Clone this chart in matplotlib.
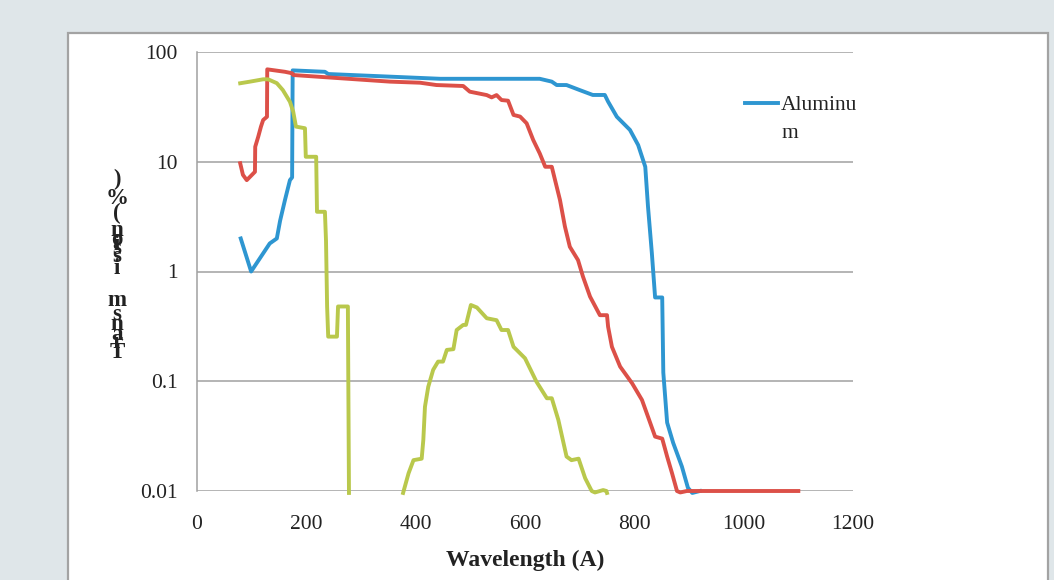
import numpy as np
import matplotlib
matplotlib.use("Agg")
import matplotlib.pyplot as plt
from matplotlib.patches import Rectangle
from matplotlib.lines import Line2D

# Aluminum (blue)
al_wl = [80, 99, 133, 146, 152, 161, 170, 174, 175, 234, 240, 445, 627, 649, 658, 676, 700,
         724, 746, 752, 768, 792, 807, 820, 825, 832, 838, 851, 853, 860, 871, 887, 898, 906, 920]
al_t = [2.0, 1.0, 1.8, 2.0, 2.9, 4.5, 6.8, 7.2, 68, 66, 63, 57, 57, 53.7, 50, 50, 45,
        40.6, 40.6, 35.3, 25.7, 19.5, 14.2, 9.0, 3.9, 1.48, 0.58, 0.58, 0.12, 0.042, 0.0275, 0.0167, 0.0107, 0.0096, 0.01]

# second filter (red)
red_wl = [79, 84, 91, 106, 106.5, 112, 117, 121, 128, 128.5, 161, 174, 176, 353, 408, 438, 487, 499,
          530, 539, 548, 557, 569, 579, 591, 603, 615, 627, 637, 649, 655, 664, 673, 682, 697, 706,
          719, 737, 750, 752, 759, 774, 796, 814, 825, 838, 851, 860, 869, 878, 884, 896, 1100]
red_t = [9.7, 7.6, 6.8, 8.1, 13.7, 16.9, 20.9, 24, 25.7, 69.5, 66, 64, 61.7, 53.7, 52.5, 50, 49, 43.5,
         40.5, 38.6, 40.5, 36.5, 36, 26.7, 25.8, 22.4, 15.8, 11.9, 9.0, 9.0, 6.8, 4.48, 2.57, 1.68, 1.27, 0.9,
         0.59, 0.40, 0.40, 0.314, 0.206, 0.136, 0.0957, 0.0675, 0.0475, 0.0313, 0.030, 0.0206, 0.0145, 0.01, 0.0097, 0.01, 0.01]

# third filter (green), gap where nothing is plotted
grn_wl = [79, 97, 121, 130, 146, 157, 170, 176, 181, 197.5, 199, 218, 219.5, 234, 236, 238, 240, 256, 258,
          276, 278, np.nan,
          377, 387, 396, 411, 414, 417, 423, 432, 441, 450, 457, 469, 475, 487, 492, 501, 512, 530, 548,
          557, 569, 579, 600, 621, 640, 649, 661, 676, 685, 698, 710, 722, 728, 743, 749, 750]
grn_t = [51.9, 53.7, 56.4, 56.4, 52, 45, 35.2, 28.6, 20.9, 20.2, 11.1, 11.1, 3.5, 3.5, 1.9, 0.48, 0.255, 0.255, 0.48,
         0.48, 0.0096, np.nan,
         0.0096, 0.0145, 0.0191, 0.0197, 0.0292, 0.0586, 0.089, 0.127, 0.151, 0.151, 0.193, 0.196, 0.293, 0.326, 0.326,
         0.495, 0.47, 0.375, 0.36, 0.293, 0.293, 0.206, 0.162, 0.099, 0.07, 0.07, 0.0444, 0.0206, 0.0191, 0.0197,
         0.0131, 0.0100, 0.0097, 0.0102, 0.0100, 0.0096]

x_ticks = [0, 200, 400, 600, 800, 1000, 1200]
y_ticks = [0.01, 0.1, 1, 10, 100]
y_tick_labels = ["0.01", "0.1", "1", "10", "100"]
legend_label = "Aluminu\nm"

# y label as drawn in the original: upright letters stacked bottom to top
ylab_chars = [")", "%", "(", "n", "o", "i", "s", "s", "i", "m", "s", "n", "a", "r", "T"]
ylab_pos = [179, 198, 213, 231, 240, 244, 249, 256, 268, 300, 314, 325, 335, 342, 352]


def main():
    W, H = 1054, 580
    fig = plt.figure(figsize=(W / 100, H / 100), dpi=100, facecolor="#dfe6e9")
    plt.rcParams["font.family"] = ["Liberation Serif", "DejaVu Serif"]

    # white panel behind the chart
    panel = Rectangle((68 / W, -0.1), (1048 - 68) / W, 0.1 + 1 - 33 / H, transform=fig.transFigure,
                      facecolor="white", edgecolor="#a3a3a3", linewidth=1.6, zorder=-5)
    fig.patches.append(panel)

    ax = fig.add_axes([197 / W, 1 - 491 / H, (853 - 197) / W, (491 - 52) / H])
    ax.set_facecolor("none")

    lw = 2.8
    blue = "#2e96d1"
    ax.plot(al_wl, al_t, color=blue, lw=lw, clip_on=False, solid_joinstyle="round")
    ax.plot(red_wl, red_t, color="#dc5048", lw=lw, clip_on=False, solid_joinstyle="round")
    ax.plot(grn_wl, grn_t, color="#b9c84c", lw=lw, clip_on=False, solid_joinstyle="round")

    ax.set_yscale("log")
    ax.set_ylim(0.01, 100)
    ax.set_xlim(0, 1200)
    ax.set_xticks(x_ticks)
    ax.set_yticks(y_ticks, y_tick_labels)
    ax.minorticks_off()
    ax.tick_params(length=0, labelsize=15.5, labelcolor="#222222")
    ax.tick_params(axis="y", pad=14)
    ax.tick_params(axis="x", pad=17)

    ax.grid(axis="y", color="#a0a0a0", lw=1.1)
    ax.set_axisbelow(True)
    for s in ["top", "right", "bottom"]:
        ax.spines[s].set_visible(False)
    ax.spines["left"].set_color("#a0a0a0")
    ax.spines["left"].set_linewidth(1.1)

    ax.set_xlabel("Wavelength (A)", fontsize=17, fontweight="bold", color="#222222", labelpad=12)

    for ch, py in zip(ylab_chars, ylab_pos):
        fig.text(117 / W, 1 - py / H, ch, ha="center", va="center", fontsize=16.5,
                 fontweight="bold", color="#222222")

    # legend drawn by hand so the key lines up with the first text line
    fig.add_artist(Line2D([745 / W, 778 / W], [1 - 103 / H, 1 - 103 / H], color=blue, lw=lw))
    fig.text(781 / W, 1 - 96 / H, legend_label, ha="left", va="top", fontsize=15.5,
             color="#222222", linespacing=1.65)

    fig.savefig("out.png", dpi=100, facecolor=fig.get_facecolor())


if __name__ == "__main__":
    main()
